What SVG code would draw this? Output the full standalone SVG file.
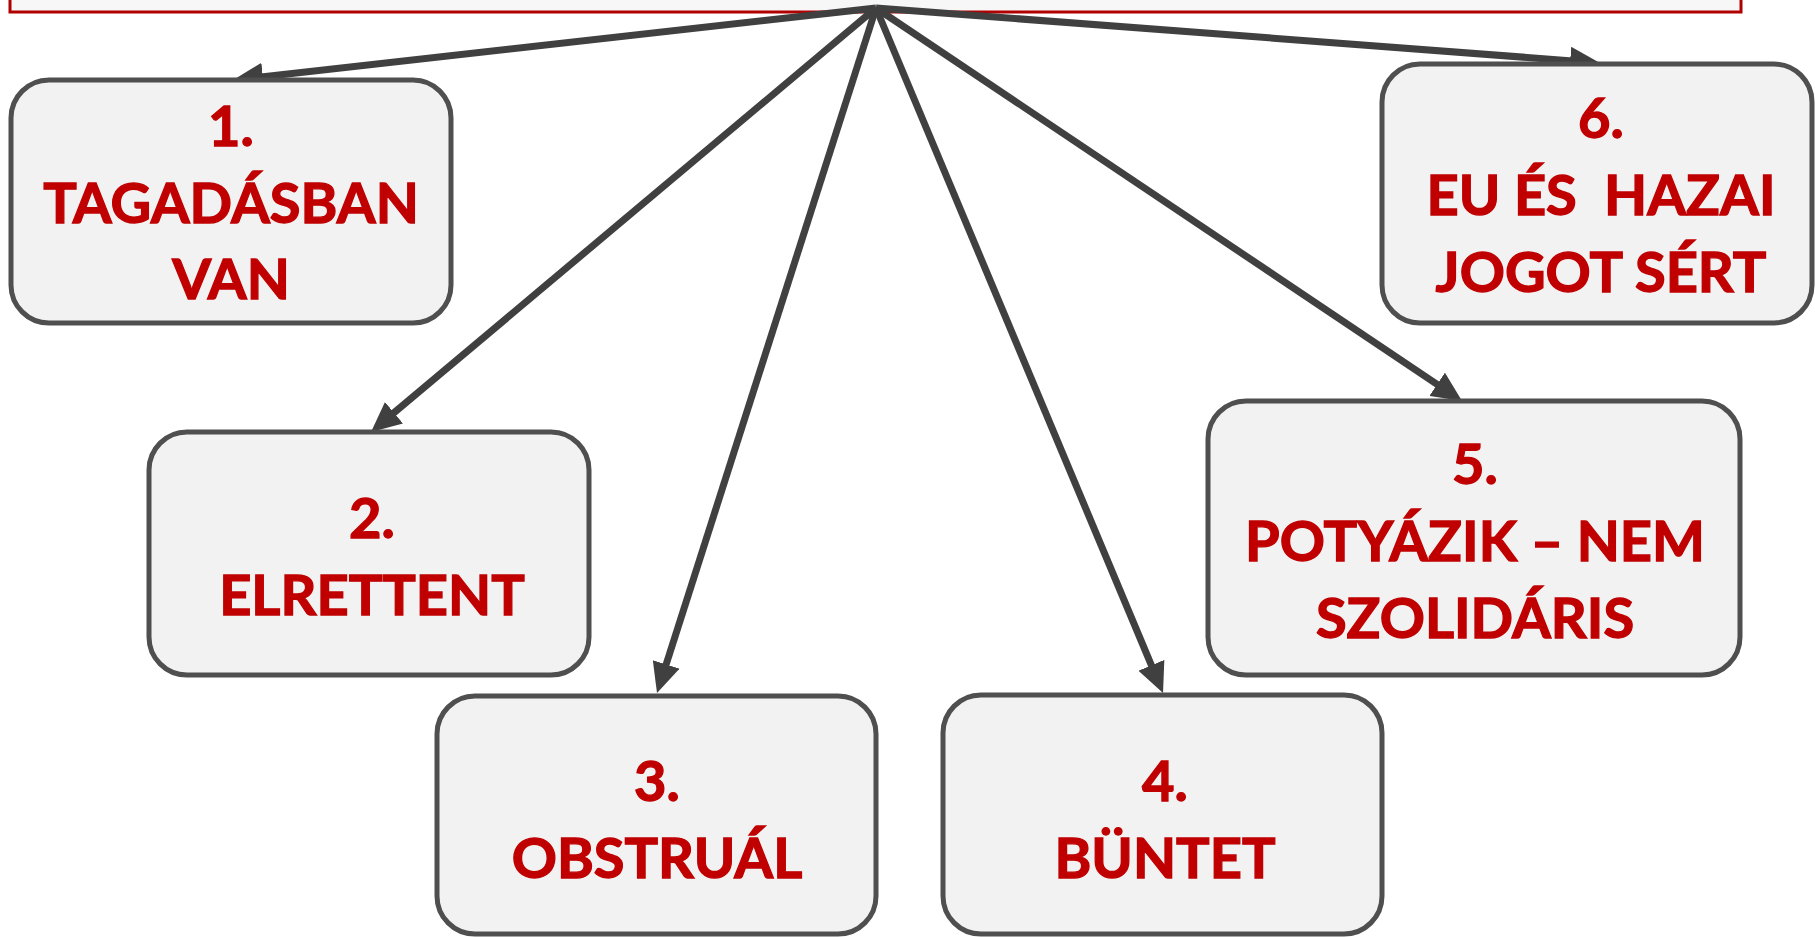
<svg xmlns="http://www.w3.org/2000/svg" width="1815" height="937" viewBox="0 0 1815 937">
<style>
.box{fill:#F2F2F2;stroke:#4F4F4F;stroke-width:5}
.lbl{font-family:"Lato","Open Sans","Liberation Sans",sans-serif;font-weight:700;font-size:56px;fill:#C00000;stroke:#C00000;stroke-width:1.3;text-anchor:middle}
.con{stroke:#404040;stroke-width:7;fill:none;marker-end:url(#ah)}
</style>
<defs>
<marker id="ah" viewBox="0 0 30 28" refX="9" refY="14" markerWidth="30" markerHeight="28" markerUnits="userSpaceOnUse" orient="auto">
<path d="M0,0 L30,14 L0,28 Z" fill="#404040"/>
</marker>
</defs>
<rect width="1815" height="937" fill="#FFFFFF"/>
<g id="top">
<rect x="10" y="-40" width="1731" height="52" fill="#F7F7F7" stroke="#B00000" stroke-width="3"/>
</g>
<g id="connectors">
<line class="con" x1="876" y1="8" x2="254" y2="77.7"/>
<line class="con" x1="876" y1="8" x2="387.1" y2="418.5"/>
<line class="con" x1="876" y1="8" x2="663.4" y2="673.0"/>
<line class="con" x1="876" y1="8" x2="1154.9" y2="673.6"/>
<line class="con" x1="876" y1="8" x2="1444.6" y2="389.3"/>
<line class="con" x1="876" y1="8" x2="1579.1" y2="61.4"/>
</g>
<g id="n1">
<rect class="box" x="11" y="80" width="440" height="243" rx="38"/>
<text class="lbl" x="231" y="146">1.</text>
<text class="lbl" x="231" y="223">TAGADÁSBAN</text>
<text class="lbl" x="231" y="299">VAN</text>
</g>
<g id="n2">
<rect class="box" x="149" y="432" width="440" height="243" rx="38"/>
<text class="lbl" x="372" y="538">2.</text>
<text class="lbl" x="372" y="615">ELRETTENT</text>
</g>
<g id="n3">
<rect class="box" x="437" y="696" width="439" height="238" rx="38"/>
<text class="lbl" x="657" y="801">3.</text>
<text class="lbl" x="657" y="878">OBSTRUÁL</text>
</g>
<g id="n4">
<rect class="box" x="943" y="695" width="439" height="239" rx="38"/>
<text class="lbl" x="1165" y="801">4.</text>
<text class="lbl" x="1165" y="878">BÜNTET</text>
</g>
<g id="n5">
<rect class="box" x="1208" y="401" width="532" height="274" rx="38"/>
<text class="lbl" x="1475" y="484">5.</text>
<text class="lbl" x="1475" y="561">POTYÁZIK – NEM</text>
<text class="lbl" x="1475" y="638">SZOLIDÁRIS</text>
</g>
<g id="n6">
<rect class="box" x="1382" y="64" width="430" height="259" rx="38"/>
<text class="lbl" x="1601" y="138">6.</text>
<text class="lbl" x="1601" y="215" xml:space="preserve">EU ÉS  HAZAI</text>
<text class="lbl" x="1601" y="292">JOGOT SÉRT</text>
</g>
</svg>
